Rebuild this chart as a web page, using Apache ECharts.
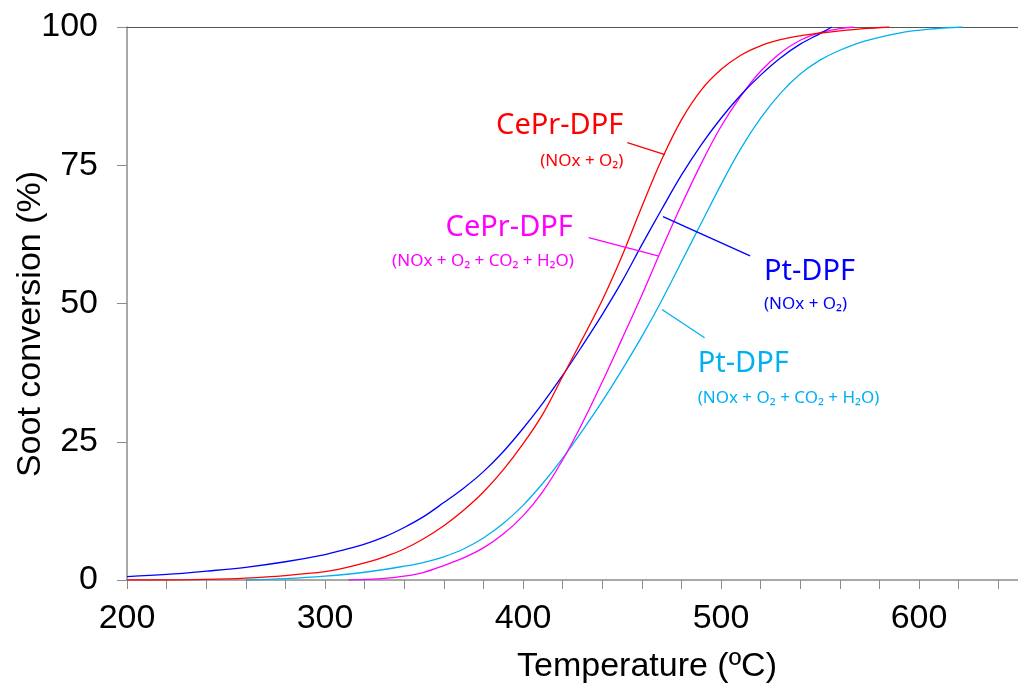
<!DOCTYPE html>
<html>
<head>
<meta charset="utf-8">
<script src="https://cdn.jsdelivr.net/npm/echarts@6/dist/echarts.min.js"></script>
<style>
  html, body { margin: 0; padding: 0; background: #fff; }
  #chart { width: 1018px; height: 690px; }
</style>
</head>
<body>
<div id="chart"></div>
<script>
// CePr-DPF (NOx + O2)
const redT = [200, 220, 240, 260, 280, 300, 310, 320, 330, 340, 350, 360, 370, 380, 390, 400, 410, 420, 430, 440, 450, 460, 470, 480, 490, 500, 510, 520, 530, 540, 550, 560, 572, 585];
const redV = [0, 0, 0.1, 0.35, 0.8, 1.5, 2.2, 3.1, 4.2, 5.6, 7.5, 9.8, 12.6, 15.9, 19.9, 24.6, 30, 36.8, 43.6, 50.6, 58.6, 67.5, 76, 83.2, 88.6, 92.3, 94.9, 96.6, 97.7, 98.4, 98.9, 99.3, 99.7, 100];
// Pt-DPF (NOx + O2)
const blueT = [200, 220, 240, 260, 280, 300, 310, 320, 330, 340, 350, 360, 370, 380, 390, 400, 410, 420, 430, 440, 450, 460, 470, 480, 490, 500, 510, 520, 530, 540, 550, 556];
const blueV = [0.6, 1.0, 1.6, 2.3, 3.3, 4.6, 5.5, 6.5, 7.8, 9.5, 11.5, 14, 16.6, 19.6, 23.2, 27.4, 32, 37, 42.4, 48, 54, 60.6, 67, 73.2, 78.7, 83.5, 87.7, 91.3, 94.4, 96.9, 98.8, 100];
// CePr-DPF (NOx + O2 + CO2 + H2O)
const magT = [312, 320, 330, 340, 350, 360, 370, 380, 390, 400, 410, 420, 430, 440, 450, 460, 470, 480, 490, 500, 510, 520, 530, 540, 550, 560, 567];
const magV = [0, 0.1, 0.3, 0.7, 1.4, 2.6, 4, 5.8, 8.3, 11.6, 16, 21.7, 28.4, 35.8, 43.6, 51.5, 59.8, 67.8, 75.3, 82, 87.5, 92, 95.3, 97.6, 99, 99.7, 100];
// Pt-DPF (NOx + O2 + CO2 + H2O)
const cyanT = [260, 280, 300, 320, 340, 350, 360, 370, 380, 390, 400, 410, 420, 430, 440, 450, 460, 470, 480, 490, 500, 510, 520, 530, 540, 550, 560, 573, 590, 605, 622];
const cyanV = [0, 0.25, 0.7, 1.4, 2.5, 3.2, 4.2, 5.6, 7.6, 10.2, 13.5, 17.5, 22, 27, 32.3, 38, 44, 50.5, 57.5, 64.5, 71.5, 78, 83.5, 88, 91.5, 94, 95.8, 97.5, 98.9, 99.6, 100];

const yTicks = [0, 25, 50, 75, 100];
const xLabels = [200, 300, 400, 500, 600];

const RED = '#ff0000', BLUE = '#0000ff', MAG = '#ff00ff', CYAN = '#00b0f0';

// annotation labels: [x, y] in data units, text, sub text, colour, align
const labels = [
  { at: [450.7, 82.1], sub: [450.7, 75.8], name: 'CePr-DPF', note: '(NOx + O₂)', color: RED, align: 'right' },
  { at: [425.2, 63.7], sub: [425.7, 57.7], name: 'CePr-DPF', note: '(NOx + O₂ + CO₂ + H₂O)', color: MAG, align: 'right' },
  { at: [521.7, 55.7], sub: [521.7, 49.8], name: 'Pt-DPF', note: '(NOx + O₂)', color: BLUE, align: 'left' },
  { at: [488.2, 39.1], sub: [488.2, 32.9], name: 'Pt-DPF', note: '(NOx + O₂ + CO₂ + H₂O)', color: CYAN, align: 'left' },
];
// leader lines from label to curve
const leaders = {
  red: [[452.7, 79.1], [471.7, 76.9]],
  mag: [[433.2, 61.9], [468.2, 58.6]],
  blue: [[470.7, 65.7], [514.7, 58.6]],
  cyan: [[470.2, 48.9], [491.7, 43.8]],
};

const zip = (xs, ys) => xs.map((x, i) => [x, ys[i]]);

function makeSeries(name, xs, ys, color, leader) {
  return {
    name: name,
    type: 'line',
    xAxisIndex: 0,
    yAxisIndex: 0,
    data: zip(xs, ys),
    symbol: 'none',
    smooth: 0.35,
    lineStyle: { color: color, width: 1.3 },
    itemStyle: { color: color },
    z: 3,
    markLine: {
      silent: true,
      symbol: 'none',
      label: { show: false },
      lineStyle: { color: color, width: 1.3, type: 'solid' },
      data: [[{ coord: leader[0] }, { coord: leader[1] }]],
    },
  };
}

const chart = echarts.init(document.getElementById('chart'), null, { renderer: 'canvas' });

const option = {
  animation: false,
  backgroundColor: '#fff',
  grid: { left: 127, top: 27, bottom: 110, right: -9 },
  xAxis: [
    {
      type: 'value',
      min: 200,
      max: 650,
      interval: 20,
      axisLine: { lineStyle: { color: '#8c8c8c', width: 1.5 } },
      axisTick: { show: true, length: 9, lineStyle: { color: '#8c8c8c' } },
      splitLine: { show: false },
      axisLabel: {
        color: '#000',
        fontSize: 34,
        fontFamily: 'Liberation Sans, Arial, sans-serif',
        margin: 22,
        showMaxLabel: false,
        formatter: v => (xLabels.includes(v) ? String(v) : ''),
      },
    },
    {
      type: 'value',
      position: 'top',
      min: 200,
      max: 650,
      axisLine: { show: true, onZero: false, lineStyle: { color: '#555', width: 1.2 } },
      axisTick: { show: false },
      axisLabel: { show: false },
      splitLine: { show: false },
    },
  ],
  yAxis: {
    type: 'value',
    min: 0,
    max: 100,
    interval: 25,
    axisLine: { show: true, lineStyle: { color: '#8c8c8c', width: 1.5 } },
    axisTick: { show: true, length: 10, lineStyle: { color: '#8c8c8c' } },
    splitLine: { show: false },
    axisLabel: {
      color: '#000',
      fontSize: 34,
      fontFamily: 'Liberation Sans, Arial, sans-serif',
      margin: 29,
      formatter: v => (yTicks.includes(v) ? String(v) : ''),
    },
  },
  series: [
    makeSeries('Pt-DPF (NOx + O2 + CO2 + H2O)', cyanT, cyanV, CYAN, leaders.cyan),
    makeSeries('CePr-DPF (NOx + O2 + CO2 + H2O)', magT, magV, MAG, leaders.mag),
    makeSeries('Pt-DPF (NOx + O2)', blueT, blueV, BLUE, leaders.blue),
    makeSeries('CePr-DPF (NOx + O2)', redT, redV, RED, leaders.red),
  ],
};

chart.setOption(option);

// axis titles and curve labels
const toPx = p => chart.convertToPixel({ xAxisIndex: 0, yAxisIndex: 0 }, p);
const graphics = [
  {
    type: 'text', x: 647, y: 667,
    style: { text: 'Temperature (ºC)', fill: '#000', fontSize: 34, fontFamily: 'Liberation Sans, Arial, sans-serif', align: 'center', verticalAlign: 'middle' },
  },
  {
    type: 'text', x: 31, y: 324, rotation: Math.PI / 2,
    style: { text: 'Soot conversion (%)', fill: '#000', fontSize: 34, fontFamily: 'Liberation Sans, Arial, sans-serif', align: 'center', verticalAlign: 'middle' },
  },
];
labels.forEach(l => {
  const a = toPx(l.at);
  const b = toPx(l.sub);
  graphics.push({
    type: 'text', x: a[0], y: a[1],
    style: { text: l.name, fill: l.color, fontSize: 29, fontFamily: 'Noto Sans, Open Sans, sans-serif', align: l.align, verticalAlign: 'middle' },
  });
  graphics.push({
    type: 'text', x: b[0], y: b[1],
    style: { text: l.note, fill: l.color, fontSize: 17, fontFamily: 'Noto Sans, Open Sans, sans-serif', align: l.align, verticalAlign: 'middle' },
  });
});
chart.setOption({ graphic: graphics });
</script>
</body>
</html>
